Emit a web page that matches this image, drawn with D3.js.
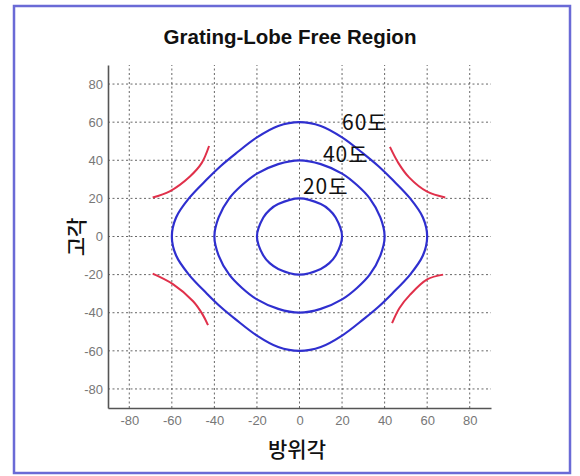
<!DOCTYPE html>
<html>
<head>
<meta charset="utf-8">
<script src="https://cdn.jsdelivr.net/npm/d3@7"></script>
<style>
    html, body { margin: 0; padding: 0; background: #fff; }
    text { font-family: "Liberation Sans", Arial, "Noto Sans CJK KR", sans-serif; }
    .kr { font-family: "Noto Sans CJK KR", "Liberation Sans", sans-serif; }
</style>
</head>
<body>
<svg id="chart"></svg>
<script>
// tick values for both axes
var ticks = [-80, -60, -40, -20, 0, 20, 40, 60, 80];

// scan angle contours, [azimuth, elevation] points
var contour20 = [[20,0],[17,10],[14,14],[10,17],[0,20],[-10,17],[-14,14],[-17,10],
    [-20,0],[-17,-10],[-14,-14],[-10,-17],[0,-20],[10,-17],[14,-14],[17,-10]];

var contour40 = [[40,0],[38,10],[33,20],[27,27],[20,33],[10,38],[0,40],[-10,38],
    [-20,33],[-27,27],[-33,20],[-38,10],[-40,0],[-38,-10],[-33,-20],[-27,-27],
    [-20,-33],[-10,-38],[0,-40],[10,-38],[20,-33],[27,-27],[33,-20],[38,-10]];

var contour60 = [[60,0],[58,10],[52,20],[43.5,30],[37,37],[30,43.5],[20,52],[10,58],
    [0,60],[-10,58],[-20,52],[-30,43.5],[-37,37],[-43.5,30],[-52,20],[-58,10],
    [-60,0],[-58,-10],[-52,-20],[-43.5,-30],[-37,-37],[-30,-43.5],[-20,-52],[-10,-58],
    [0,-60],[10,-58],[20,-52],[30,-43.5],[37,-37],[43.5,-30],[52,-20],[58,-10]];

// grating lobe boundaries (red)
var lobeTL = [[-69,20.5],[-61,23.7],[-51.5,31.5],[-46,38.5],[-42.5,47.5]];
var lobeTR = [[42.5,47],[46.5,38.5],[51.5,31],[60,23.5],[68.5,20.5]];
var lobeBL = [[-69,-19.5],[-59.5,-25],[-50,-34],[-45.5,-41],[-43,-46.5]];
var lobeBR = [[67.5,-20],[60,-22.5],[52,-30.5],[47,-37.5],[43.5,-45.5]];

// contour labels and where they sit
var labelText = ["60도", "40도", "20도"];
var labelAt = [[20, 56], [11, 39], [1.6, 22.3]];

(function(){
    "use strict";

    var width = 580,
        height = 476;

    var svg = d3.select("svg#chart")
        .attr("width", width)
        .attr("height", height);

    // outer frame
    svg.append("rect")
        .attr("x", 14).attr("y", 6)
        .attr("width", 556).attr("height", 467)
        .attr("fill", "#fff")
        .attr("stroke", "#6a6ad6")
        .attr("stroke-width", 2.5);

    var x = d3.scaleLinear().domain([-90, 90]).range([108, 491]),
        y = d3.scaleLinear().domain([-90, 90]).range([408, 65]);

    // grid
    var grid = svg.append("g")
        .attr("stroke", "#666")
        .attr("stroke-width", 1)
        .attr("stroke-dasharray", "2,2.5");

    grid.selectAll("line.v")
        .data(ticks)
        .enter().append("line")
        .attr("class", "v")
        .attr("x1", function(d) { return x(d); })
        .attr("x2", function(d) { return x(d); })
        .attr("y1", y(-90))
        .attr("y2", y(90));

    grid.selectAll("line.h")
        .data(ticks)
        .enter().append("line")
        .attr("class", "h")
        .attr("y1", function(d) { return y(d); })
        .attr("y2", function(d) { return y(d); })
        .attr("x1", x(-90))
        .attr("x2", x(90));

    // axes
    var xAxis = svg.append("g")
        .attr("transform", "translate(0," + y(-90) + ")")
        .call(d3.axisBottom(x).tickValues(ticks).tickSize(0).tickPadding(8));

    var yAxis = svg.append("g")
        .attr("transform", "translate(" + x(-90) + ",0)")
        .call(d3.axisLeft(y).tickValues(ticks).tickSize(0).tickPadding(5));

    [xAxis, yAxis].forEach(function(a) {
        a.select(".domain").attr("stroke", "#555").attr("stroke-width", 1.6);
        a.selectAll("text")
            .attr("fill", "#777")
            .style("font-size", "13px")
            .text(function(d) { return d < 0 ? "-" + Math.abs(d) : d; });
    });

    // curves
    var line = d3.line()
        .x(function(d) { return x(d[0]); })
        .y(function(d) { return y(d[1]); });

    var closed = d3.line()
        .x(function(d) { return x(d[0]); })
        .y(function(d) { return y(d[1]); })
        .curve(d3.curveCatmullRomClosed);

    svg.selectAll("path.scan")
        .data([contour20, contour40, contour60])
        .enter().append("path")
        .attr("class", "scan")
        .attr("d", closed)
        .attr("fill", "none")
        .attr("stroke", "#2f2fcf")
        .attr("stroke-width", 2.2);

    svg.selectAll("path.lobe")
        .data([lobeTL, lobeTR, lobeBL, lobeBR])
        .enter().append("path")
        .attr("class", "lobe")
        .attr("d", line.curve(d3.curveCatmullRom))
        .attr("fill", "none")
        .attr("stroke", "#e0304a")
        .attr("stroke-width", 2);

    // contour labels
    svg.selectAll("text.lbl")
        .data(labelText)
        .enter().append("text")
        .attr("class", "lbl kr")
        .attr("x", function(d, i) { return x(labelAt[i][0]); })
        .attr("y", function(d, i) { return y(labelAt[i][1]); })
        .style("font-size", "21px")
        .style("letter-spacing", "1px")
        .attr("fill", "#111")
        .text(function(d) { return d; });

    // title and axis labels
    svg.append("text")
        .attr("x", 290).attr("y", 44)
        .attr("text-anchor", "middle")
        .style("font-size", "20.5px")
        .style("font-weight", "bold")
        .attr("fill", "#111")
        .text("Grating-Lobe Free Region");

    svg.append("text")
        .attr("class", "kr")
        .attr("x", 297).attr("y", 457)
        .attr("text-anchor", "middle")
        .style("font-size", "21px")
        .style("font-weight", "500")
        .attr("fill", "#111")
        .text("방위각");

    svg.append("text")
        .attr("class", "kr")
        .attr("transform", "translate(84,237) rotate(-90)")
        .attr("text-anchor", "middle")
        .style("font-size", "21px")
        .style("font-weight", "500")
        .attr("fill", "#111")
        .text("고각");
})();
</script>
</body>
</html>
